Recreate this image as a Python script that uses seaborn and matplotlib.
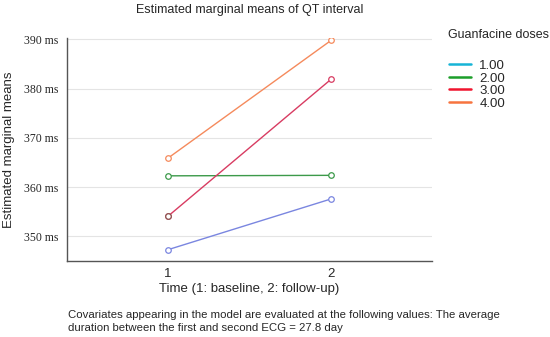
import numpy as np
import pandas as pd
import matplotlib
matplotlib.use("Agg")
import matplotlib.pyplot as plt
import seaborn as sns
from matplotlib.lines import Line2D

# data
times = [1, 2]
doses = ["1.00", "2.00", "3.00", "4.00"]
qt_1 = [347.3, 357.6]
qt_2 = [362.3, 362.4]
qt_3 = [354.1, 381.9]
qt_4 = [365.9, 389.8]

line_colors = ["#7a86e0", "#3c9a4a", "#d83c62", "#f58a5c"]
legend_colors = ["#17b4d6", "#1c9e2a", "#f0142e", "#f7743f"]

df = pd.DataFrame({
    "time": times * 4,
    "dose": np.repeat(doses, 2),
    "qt": qt_1 + qt_2 + qt_3 + qt_4,
})

sns.set_style("white")
plt.rcParams['font.family'] = ['Liberation Sans', 'DejaVu Sans']

fig = plt.figure(figsize=(5.5, 3.37), dpi=100)
ax = fig.add_axes([67/550, 1-261/337, (432-67)/550, (261-39)/337 + 0.003])

sns.lineplot(data=df, x="time", y="qt", hue="dose", palette=line_colors,
             marker="o", markersize=4, markerfacecolor="white", markeredgewidth=0.9,
             linewidth=1.0, legend=False, ax=ax)
for ln, c in zip(ax.get_lines(), line_colors):
    ln.set_markeredgecolor(c)
# the 3.00 line starts brownish at baseline in the original
ax.plot([1], [qt_3[0]], marker="o", ms=4, mfc="white", mec="#8a5550", mew=0.9, ls="none")

ax.set_xlim(0.38, 2.62)
ax.set_ylim(345, 390.3)
ax.set_xticks(times)
ax.set_xticklabels(["1", "2"], fontsize=9.5)
ax.set_yticks([350, 360, 370, 380, 390])
ax.set_yticklabels([f"{v} ms" for v in [350, 360, 370, 380, 390]],
                   family="Liberation Serif", fontsize=8.5)
ax.yaxis.grid(True, color="#e4e4e4", linewidth=0.8)
ax.set_axisbelow(True)
for s in ["top", "right"]:
    ax.spines[s].set_visible(False)
for s in ["left", "bottom"]:
    ax.spines[s].set_color("#555555")
    ax.spines[s].set_linewidth(1.0)
ax.tick_params(axis="x", length=4, width=0.8, color="#555555", pad=1)
ax.tick_params(axis="y", length=3, width=0.8, color="#555555", pad=6, direction="in")

ax.set_xlabel("Time (1: baseline, 2: follow-up)", fontsize=9.5, labelpad=2)
ax.set_ylabel("Estimated marginal means", fontsize=9.5, labelpad=7)
fig.text(250/550, 1-10/337, "Estimated marginal means of QT interval",
         ha="center", va="center", fontsize=9)

fig.text(448/550, 1-35/337, "Guanfacine doses", ha="left", va="center", fontsize=9)
handles = [Line2D([0], [0], color=c, lw=1.8) for c in legend_colors]
leg = fig.legend(handles, doses, loc="upper left",
                 bbox_to_anchor=(437/550, 1-48/337), frameon=False,
                 fontsize=9.5, handlelength=1.7,
                 labelspacing=0.02, handletextpad=0.6)

fig.text(68/550, 1-321.5/337,
         "Covariates appearing in the model are evaluated at the following values: The average\n"
         "duration between the first and second ECG = 27.8 day",
         ha="left", va="center", fontsize=8.2, linespacing=1.4)

fig.savefig("out.png", dpi=100)
